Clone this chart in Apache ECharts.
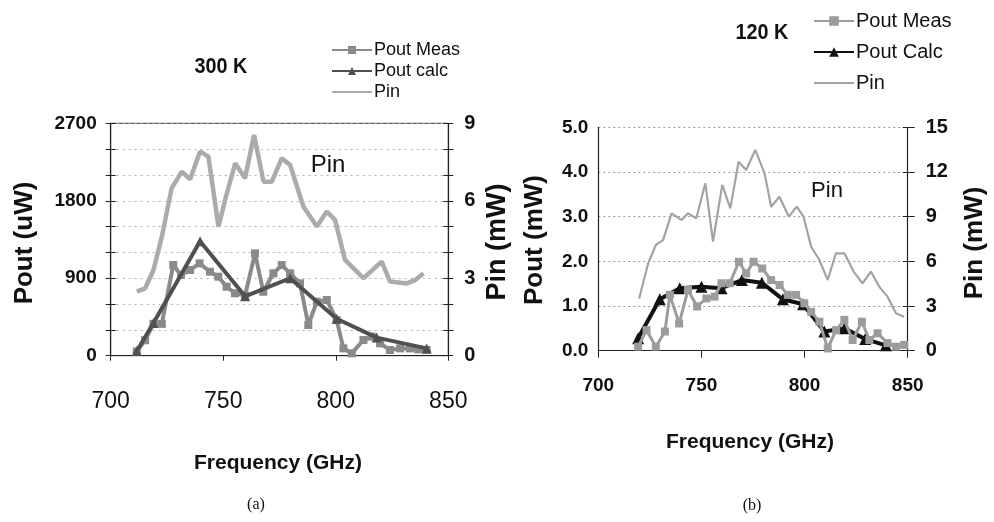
<!DOCTYPE html>
<html>
<head>
<meta charset="utf-8">
<script src="https://cdn.jsdelivr.net/npm/echarts@6/dist/echarts.min.js"></script>
<style>html,body{margin:0;padding:0;background:#fff}#c{width:994px;height:522px}</style>
</head>
<body>
<div id="c"></div>
<script>
// ---------- (a) 300 K ----------
const pinFreqA = [711.6,715.3,719,722.7,727.1,731.6,735.3,739.7,743.4,747.9,751.6,755.3,759.7,763.7,767.9,771.6,776.0,779.7,785.6,791.6,796.0,799.7,804.1,808.6,812.3,820.4,824.1,831.5,835.3,839.0];
const pinValA  = [2.48,2.61,3.32,4.6,6.49,7.13,6.83,7.91,7.71,5.0,6.29,7.45,6.87,8.55,6.74,6.74,7.65,7.39,5.78,5.0,5.58,5.26,3.71,3.32,3.0,3.64,2.87,2.8,2.93,3.19];
const measFreqA = [711.6,715.3,719,722.7,727.8,731.2,735.3,739.5,744.1,747.8,751.5,755.2,759.7,764.1,767.8,772.3,776.0,779.7,784.1,787.8,791.6,796.0,800.4,803.4,807.1,812.3,816.0,819.7,824.1,828.6,833.0,836.7,840.4];
const measValA  = [50,180,370,370,1054,937,996,1073,976,918,801,725,700,1189,743,957,1053,957,841,357,627,647,415,85,27,182,221,143,66,85,85,74,66];
const calcFreqA = [711.6,719,739.7,759.7,779.7,800.4,818.2,840.4];
const calcValA  = [55,380,1330,690,900,430,210,85];

// ---------- (b) 120 K ----------
const pinFreqB = [719.8,724.2,727.9,731.4,735.5,740.3,743.5,747.5,751.9,755.6,760.1,764.0,768.0,771.7,776.1,780.6,783.8,787.8,792.4,796.2,799.5,803.2,807.2,811.2,815.2,819.3,823.8,828.1,832.2,836.2,840.2,844.3,848.3];
const pinValB  = [3.51,5.87,7.10,7.43,9.22,8.78,9.22,8.89,11.24,7.32,11.13,9.56,12.69,12.13,13.48,11.91,9.67,10.34,9.0,9.67,9.0,6.98,6.09,4.75,6.54,6.54,5.31,4.52,5.31,4.30,3.63,2.51,2.28];
const measFreqB = [719.3,723.4,727.9,732.3,734.7,739.2,743.5,747.9,752.4,756.4,759.7,763.7,768.2,771.7,775.3,779.5,783.8,787.9,791.9,795.9,799.9,803.2,807.2,811.2,815.3,819.3,823.3,827.8,831.4,835.4,840.2,844.3,848.3];
const measValB  = [0.09,0.46,0.09,0.43,1.25,0.61,1.36,0.99,1.17,1.21,1.51,1.51,1.99,1.73,1.99,1.84,1.58,1.47,1.25,1.25,1.06,0.87,0.65,0.05,0.46,0.69,0.24,0.65,0.24,0.39,0.17,0.09,0.13];
const calcFreqB = [719.3,729.8,739.5,750.0,759.7,769.6,779.3,789.5,799.3,809.6,819.3,829.4,839.4];
const calcValB  = [0.28,1.15,1.40,1.43,1.40,1.58,1.52,1.15,1.04,0.43,0.50,0.26,0.12];

// tick labels
const xTicks = [700,750,800,850];
const leftTicksA = [0,900,1800,2700];
const rightTicksA = [0,3,6,9];
const leftTicksB = ['0.0','1.0','2.0','3.0','4.0','5.0'];
const rightTicksB = [0,3,6,9,12,15];

const zip = (a,b) => a.map((v,i)=>[v,b[i]]);
const SANS = "'Liberation Sans',Arial,sans-serif";

const chart = echarts.init(document.getElementById('c'), null, {renderer:'canvas'});

function tickAxis(grid, pos, min, max, interval, inside) {
  return {gridIndex:grid, type:'value', position:pos, min, max, interval,
    axisLine:{show:false}, axisTick:{show:true, inside:inside, length:5, lineStyle:{color:'#222'}},
    axisLabel:{show:false}, splitLine:{show:false}};
}
function txt(x, y, text, font, rot, sx) {
  return {type:'text', x, y, rotation:rot||0, scaleX:sx||1,
    style:{text, font, fill:'#111', align:'center', verticalAlign:'middle'}};
}

const option = {
  animation:false,
  backgroundColor:'#fff',
  grid:[
    {left:110.7, top:123.3, width:337.6, height:232.4, show:true, borderColor:'#333', borderWidth:1, containLabel:false},
    {left:598.3, top:127.3, width:309.4, height:223.4, containLabel:false}
  ],
  xAxis:[
    {gridIndex:0, type:'value', min:700, max:850, interval:50,
     axisLine:{onZero:false, lineStyle:{color:'#222', width:1.2}},
     axisTick:{length:5, lineStyle:{color:'#222'}},
     axisLabel:{margin:34, fontSize:23, fontFamily:SANS, color:'#111',
       formatter:v=> xTicks.includes(v)? String(v):''},
     splitLine:{show:false}},
    {gridIndex:1, type:'value', min:700, max:850, interval:50,
     axisLine:{onZero:false, lineStyle:{color:'#222', width:1.2}},
     axisTick:{length:7, lineStyle:{color:'#222'}},
     axisLabel:{margin:26, fontSize:19, fontWeight:'bold', fontFamily:SANS, color:'#111',
       formatter:v=> xTicks.includes(v)? String(v):''},
     splitLine:{show:false}}
  ],
  yAxis:[
    {gridIndex:0, type:'value', position:'left', min:0, max:2700, interval:300,
     axisLine:{show:true, onZero:false, lineStyle:{color:'#222', width:1.2}},
     axisTick:{show:true, length:5, lineStyle:{color:'#222'}},
     axisLabel:{margin:14, fontSize:19, fontWeight:'bold', fontFamily:SANS, color:'#111',
       formatter:v=> leftTicksA.includes(v)? String(v):''},
     splitLine:{show:true, lineStyle:{type:[2,4], color:'#b0b0b0', width:1}}},
    {gridIndex:0, type:'value', position:'right', min:0, max:9, interval:1,
     axisLine:{show:true, onZero:false, lineStyle:{color:'#222', width:1.2}},
     axisTick:{show:true, length:5, lineStyle:{color:'#222'}},
     axisLabel:{margin:16, fontSize:20, fontWeight:'bold', fontFamily:SANS, color:'#111',
       formatter:v=> rightTicksA.includes(v)? String(v):''},
     splitLine:{show:false}},
    {gridIndex:1, type:'value', position:'left', min:0, max:5, interval:1,
     axisLine:{show:true, onZero:false, lineStyle:{color:'#222', width:1.2}},
     axisTick:{show:false},
     axisLabel:{margin:10, fontSize:19, fontWeight:'bold', fontFamily:SANS, color:'#111',
       formatter:v=> leftTicksB[Math.round(v)] || ''},
     splitLine:{show:true, lineStyle:{type:[2,3], color:'#9a9a9a', width:1}}},
    {gridIndex:1, type:'value', position:'right', min:0, max:15, interval:3,
     axisLine:{show:true, onZero:false, lineStyle:{color:'#222', width:1.2}},
     axisTick:{show:true, length:7, lineStyle:{color:'#222'}},
     axisLabel:{margin:18, fontSize:20, fontWeight:'bold', fontFamily:SANS, color:'#111',
       formatter:v=> rightTicksB.includes(v)? String(v):''},
     splitLine:{show:false}},
    tickAxis(0,'left',0,2700,300,true),
    tickAxis(0,'right',0,9,1,true),
    tickAxis(1,'right',0,15,3,true)
  ],
  legend:[
    {data:['Pout Meas','Pout calc',{name:'Pin', itemStyle:{opacity:0}}], orient:'vertical', left:326, top:36,
     itemWidth:40, itemHeight:10, itemGap:3,
     textStyle:{fontSize:18, fontFamily:SANS, color:'#111', lineHeight:17, padding:[0,0,0,-3]},
     selectedMode:false},
    {data:['Pout Meas ','Pout Calc',{name:'Pin ', itemStyle:{opacity:0}}], orient:'vertical', left:808, top:6,
     itemWidth:40, itemHeight:12, itemGap:11,
     formatter:n=>n.trim(),
     textStyle:{fontSize:20, fontFamily:SANS, color:'#111', lineHeight:20, padding:[0,0,0,-3]},
     selectedMode:false}
  ],
  series:[
    {name:'Pin', type:'line', xAxisIndex:0, yAxisIndex:1, data:zip(pinFreqA,pinValA),
     symbol:'none', lineStyle:{width:4.5, color:'#ababab'}, itemStyle:{color:'#ababab'}, z:2},
    {name:'Pout Meas', type:'line', xAxisIndex:0, yAxisIndex:0, data:zip(measFreqA,measValA),
     symbol:'rect', symbolSize:8, lineStyle:{width:4, color:'#8a8a8a'}, itemStyle:{color:'#8a8a8a'}, z:3},
    {name:'Pout calc', type:'line', xAxisIndex:0, yAxisIndex:0, data:zip(calcFreqA,calcValA),
     symbol:'triangle', symbolSize:10, lineStyle:{width:4, color:'#505050'}, itemStyle:{color:'#505050'}, z:4},

    {name:'Pin ', type:'line', xAxisIndex:1, yAxisIndex:3, data:zip(pinFreqB,pinValB),
     symbol:'none', lineStyle:{width:2.2, color:'#a3a3a3'}, itemStyle:{color:'#a3a3a3'}, z:2},
    {name:'Pout Calc', type:'line', xAxisIndex:1, yAxisIndex:2, data:zip(calcFreqB,calcValB),
     symbol:'triangle', symbolSize:12, lineStyle:{width:4, color:'#111'}, itemStyle:{color:'#111'}, z:3},
    {name:'Pout Meas ', type:'line', xAxisIndex:1, yAxisIndex:2, data:zip(measFreqB,measValB),
     symbol:'rect', symbolSize:8, lineStyle:{width:3, color:'#9c9c9c'}, itemStyle:{color:'#9c9c9c'}, z:4}
  ],
  graphic:[
    txt(221, 67, '300 K', "bold 22px "+SANS, 0, 0.9),
    txt(762, 33, '120 K', "bold 22px "+SANS, 0, 0.9),
    txt(25, 243, 'Pout (uW)', "bold 26px "+SANS, Math.PI/2),
    txt(498, 242, 'Pin (mW)', "bold 27px "+SANS, Math.PI/2),
    txt(535, 240, 'Pout (mW)', "bold 26px "+SANS, Math.PI/2),
    txt(975, 243, 'Pin (mW)', "bold 26px "+SANS, Math.PI/2),
    txt(278, 463, 'Frequency (GHz)', "bold 21px "+SANS),
    txt(750, 442, 'Frequency (GHz)', "bold 21px "+SANS),
    txt(328, 165, 'Pin', "24px "+SANS),
    txt(827, 191, 'Pin', "22px "+SANS),
    txt(256, 505, '(a)', "16px 'Liberation Serif','Times New Roman',serif"),
    txt(752, 506, '(b)', "16px 'Liberation Serif','Times New Roman',serif")
  ]
};
chart.setOption(option);
</script>
</body>
</html>
